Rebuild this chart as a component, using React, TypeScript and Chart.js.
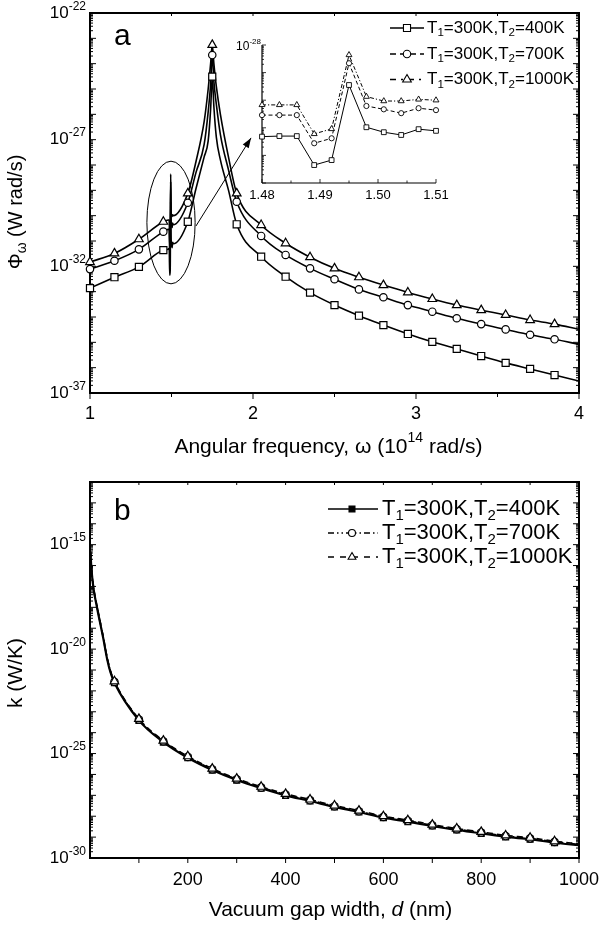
import React, { useEffect, useRef } from "react";
import { Chart, registerables } from "chart.js";

Chart.register(...registerables);

const W = 601;
const H = 926;
const FONT = '"Liberation Sans", Arial, Helvetica, sans-serif';

// ---------------- Panel a : spectral heat flux (log10 of Φω, W rad/s) ----------------
const omegaMarks = [1.0, 1.15, 1.3, 1.45, 1.6, 1.75, 1.9, 2.05, 2.2, 2.35, 2.5, 2.65, 2.8, 2.95, 3.1, 3.25, 3.4, 3.55, 3.7, 3.85];
const logPhi400Marks = [-32.86, -32.43, -32.02, -31.36, -30.24, -24.51, -30.34, -31.62, -32.41, -33.04, -33.53, -33.95, -34.32, -34.67, -34.98, -35.26, -35.54, -35.81, -36.05, -36.29];
const logPhi700Marks = [-32.11, -31.78, -31.33, -30.63, -29.49, -23.66, -29.45, -30.8, -31.55, -32.08, -32.51, -32.91, -33.22, -33.53, -33.79, -34.05, -34.28, -34.49, -34.7, -34.88];
const logPhi1000Marks = [-31.83, -31.49, -30.93, -30.24, -29.12, -23.26, -29.12, -30.37, -31.09, -31.64, -32.08, -32.43, -32.74, -33.03, -33.29, -33.53, -33.73, -33.92, -34.12, -34.28];

// curve points without markers (resonance shape, right end)
const omegaCurve = [1.65, 1.7, 1.725, 1.74, 1.76, 1.775, 1.8, 1.85, 4.0];
const logPhi400Curve = [-28.94, -27.69, -27.05, -25.8, -25.7, -26.9, -27.8, -29.0, -36.53];
const logPhi700Curve = [-28.3, -27.2, -25.9, -24.8, -24.7, -25.6, -26.8, -28.2, -35.08];
const logPhi1000Curve = [-27.87, -26.3, -25.0, -24.0, -24.0, -24.9, -26.0, -27.7, -34.49];

// fine structure near 1.49 (inset)
const omegaFine = [1.48, 1.483, 1.486, 1.489, 1.492, 1.495, 1.498, 1.501, 1.504, 1.507, 1.51];
const logPhi400Fine = [-31.32, -31.3, -31.3, -32.35, -32.17, -29.45, -30.98, -31.16, -31.26, -31.05, -31.11];
const logPhi700Fine = [-30.54, -30.54, -30.54, -31.56, -31.38, -28.66, -30.21, -30.33, -30.47, -30.29, -30.36];
const logPhi1000Fine = [-30.17, -30.17, -30.17, -31.22, -31.04, -28.36, -29.87, -30.03, -30.03, -29.97, -30.0];

const xTicksA = [1, 2, 3, 4];
const yLabelExpA = [-22, -27, -32, -37];
const xTicksInset = ["1.48", "1.49", "1.50", "1.51"];

// ---------------- Panel b : thermal conductance (log10 of k, W/K) ----------------
const gapMarks = [50, 100, 150, 200, 250, 300, 350, 400, 450, 500, 550, 600, 650, 700, 750, 800, 850, 900, 950];
const logK400Marks = [-21.61, -23.41, -24.45, -25.2, -25.79, -26.27, -26.66, -27.0, -27.27, -27.56, -27.8, -28.07, -28.26, -28.47, -28.66, -28.82, -28.99, -29.1, -29.27];
const logK700Marks = [-21.57, -23.37, -24.41, -25.16, -25.75, -26.23, -26.62, -26.96, -27.23, -27.52, -27.76, -28.03, -28.22, -28.43, -28.62, -28.78, -28.95, -29.06, -29.23];
const logK1000Marks = [-21.54, -23.34, -24.38, -25.13, -25.72, -26.2, -26.59, -26.93, -27.2, -27.49, -27.73, -28.0, -28.19, -28.4, -28.59, -28.75, -28.92, -29.03, -29.2];
const gapCurve = [1, 3, 7, 14, 20, 27, 35, 42, 1000];
const logK400Curve = [-15.37, -16.17, -17.07, -17.97, -18.67, -19.47, -20.47, -21.12, -29.39];
const logK700Curve = [-15.33, -16.13, -17.03, -17.93, -18.63, -19.43, -20.43, -21.08, -29.35];
const logK1000Curve = [-15.3, -16.1, -17.0, -17.9, -18.6, -19.4, -20.4, -21.05, -29.32];

const xTicksB = [200, 400, 600, 800, 1000];
const yLabelExpB = [-15, -20, -25, -30];

const legendLabels = [
  [{ t: "T" }, { t: "1", k: "sub" }, { t: "=300K,T" }, { t: "2", k: "sub" }, { t: "=400K" }],
  [{ t: "T" }, { t: "1", k: "sub" }, { t: "=300K,T" }, { t: "2", k: "sub" }, { t: "=700K" }],
  [{ t: "T" }, { t: "1", k: "sub" }, { t: "=300K,T" }, { t: "2", k: "sub" }, { t: "=1000K" }],
];

// ---------------- helpers ----------------
function pts(xs: number[], logs: number[]) {
  return xs.map((x, i) => ({ x, y: Math.pow(10, logs[i]) }));
}
function merged(...pairs: any[]) {
  const all = pairs.flatMap((p: any) => pts(p[0], p[1]));
  all.sort((a, b) => a.x - b.x);
  return all;
}
function font(size: number, italic = false) {
  return `${italic ? "italic " : ""}${size}px ${FONT}`;
}
function drawRuns(ctx: any, runs: any[], x: number, y: number, size: number, align: string, small?: number) {
  const sm = small || size * 0.65;
  ctx.textBaseline = "middle";
  ctx.textAlign = "left";
  const widths = runs.map((r) => {
    ctx.font = font(r.k ? sm : size, r.it);
    return ctx.measureText(r.t).width;
  });
  const total = widths.reduce((a, b) => a + b, 0);
  let cx = align === "left" ? x : align === "center" ? x - total / 2 : x - total;
  runs.forEach((r, i) => {
    ctx.font = font(r.k ? sm : size, r.it);
    const dy = r.k === "sub" ? size * 0.3 : r.k === "sup" ? -size * 0.4 : 0;
    ctx.fillText(r.t, cx, y + dy);
    cx += widths[i];
  });
  return total;
}
function seg(ctx: any, x1: number, y1: number, x2: number, y2: number) {
  ctx.beginPath();
  ctx.moveTo(x1, y1);
  ctx.lineTo(x2, y2);
  ctx.stroke();
}
function drawMarker(ctx: any, style: string, x: number, y: number, r: number, fill: string, lw: number) {
  ctx.save();
  ctx.setLineDash([]);
  ctx.beginPath();
  if (style === "rect") {
    const s = r * Math.SQRT1_2;
    ctx.rect(x - s, y - s, 2 * s, 2 * s);
  } else if (style === "circle") {
    ctx.arc(x, y, r, 0, Math.PI * 2);
  } else {
    ctx.moveTo(x, y - r);
    ctx.lineTo(x + r * 0.866, y + r * 0.5);
    ctx.lineTo(x - r * 0.866, y + r * 0.5);
    ctx.closePath();
  }
  ctx.fillStyle = fill;
  ctx.fill();
  ctx.lineWidth = lw;
  ctx.strokeStyle = "#000";
  ctx.stroke();
  ctx.restore();
}
function logTickValues(minExp: number, maxExp: number) {
  const out: any[] = [];
  for (let e = minExp; e < maxExp; e++) {
    for (let k = 1; k < 10; k++) out.push({ v: k * Math.pow(10, e), major: k === 1 });
  }
  out.push({ v: Math.pow(10, maxExp), major: true });
  return out;
}
function drawLegend(ctx: any, rows: any[], x0: number, x1: number, xm: number, xt: number, size: number) {
  rows.forEach((row, i) => {
    ctx.save();
    ctx.strokeStyle = "#000";
    ctx.lineWidth = row.lw;
    ctx.setLineDash(row.dash);
    seg(ctx, x0, row.y, x1, row.y);
    ctx.restore();
    drawMarker(ctx, row.style, xm, row.y, row.r, row.fill, 1.1);
    ctx.fillStyle = "#000";
    drawRuns(ctx, legendLabels[i], xt, row.y, size, "left", size * 0.68);
  });
}

// ---------------- panel a plugin ----------------
const panelAPlugin = {
  id: "panelA",
  beforeDatasetsDraw(chart: any) {
    const { ctx, chartArea: ca, scales } = chart;
    const xs = scales.x;
    const ys = scales.y;
    ctx.save();
    ctx.strokeStyle = "#000";
    ctx.fillStyle = "#000";
    ctx.lineWidth = 1;
    logTickValues(-37, -22).forEach((t: any) => {
      const y = ys.getPixelForValue(t.v);
      const len = t.major ? 6 : 3;
      seg(ctx, ca.left, y, ca.left + len, y);
      seg(ctx, ca.right, y, ca.right - len, y);
    });
    for (let v = 1; v <= 4.0001; v += 0.5) {
      const x = xs.getPixelForValue(v);
      const major = Math.abs(v - Math.round(v)) < 1e-6;
      seg(ctx, x, ca.bottom, x, ca.bottom + (major ? 6 : 4));
      seg(ctx, x, ca.top, x, ca.top + 3);
    }
    ctx.lineWidth = 2;
    ctx.strokeRect(ca.left, ca.top, ca.right - ca.left, ca.bottom - ca.top);
    // tick labels
    yLabelExpA.forEach((e) => {
      const y = ys.getPixelForValue(Math.pow(10, e));
      drawRuns(ctx, [{ t: "10" }, { t: String(e), k: "sup" }], 86, y, 17, "right", 12);
    });
    ctx.textAlign = "center";
    ctx.textBaseline = "middle";
    ctx.font = font(18);
    xTicksA.forEach((v) => ctx.fillText(String(v), xs.getPixelForValue(v), ca.bottom + 21));
    // axis titles
    drawRuns(
      ctx,
      [{ t: "Angular frequency, \u03c9 (10" }, { t: "14", k: "sup" }, { t: " rad/s)" }],
      (ca.left + ca.right) / 2 - 6,
      ca.bottom + 54,
      21,
      "center",
      14
    );
    ctx.save();
    ctx.translate(16, 212);
    ctx.rotate(-Math.PI / 2);
    drawRuns(ctx, [{ t: "\u03a6" }, { t: "\u03c9", k: "sub" }, { t: " (W rad/s)" }], 0, 0, 20, "center", 14);
    ctx.restore();
    ctx.font = font(30);
    ctx.textAlign = "left";
    ctx.textBaseline = "alphabetic";
    ctx.fillText("a", 114, 45);
    ctx.restore();
  },
  afterDatasetsDraw(chart: any) {
    const { ctx, scales } = chart;
    const xs = scales.x;
    const ys = scales.y;
    ctx.save();
    ctx.strokeStyle = "#000";
    ctx.fillStyle = "#000";
    ctx.lineWidth = 1;
    // ellipse around the fine structure
    const cx = xs.getPixelForValue(1.497);
    const cy = ys.getPixelForValue(Math.pow(10, -30.27));
    const rx = cx - xs.getPixelForValue(1.349);
    const ry = cy - ys.getPixelForValue(Math.pow(10, -27.85));
    ctx.beginPath();
    ctx.ellipse(cx, cy, rx, ry, 0, 0, Math.PI * 2);
    ctx.stroke();
    // arrow to the inset
    const ax = xs.getPixelForValue(1.65);
    const ay = ys.getPixelForValue(Math.pow(10, -30.41));
    const bx = xs.getPixelForValue(1.988);
    const by = ys.getPixelForValue(Math.pow(10, -26.93));
    seg(ctx, ax, ay, bx, by);
    const ang = Math.atan2(by - ay, bx - ax);
    ctx.beginPath();
    ctx.moveTo(bx, by);
    ctx.lineTo(bx - 10 * Math.cos(ang) + 3.5 * Math.sin(ang), by - 10 * Math.sin(ang) - 3.5 * Math.cos(ang));
    ctx.lineTo(bx - 10 * Math.cos(ang) - 3.5 * Math.sin(ang), by - 10 * Math.sin(ang) + 3.5 * Math.cos(ang));
    ctx.closePath();
    ctx.fill();
    drawLegend(
      ctx,
      [
        { y: 28, style: "rect", r: 5, fill: "#fff", dash: [], lw: 1.3 },
        { y: 54, style: "circle", r: 3.7, fill: "#fff", dash: [6, 4], lw: 1.3 },
        { y: 79.5, style: "triangle", r: 5, fill: "#fff", dash: [6, 5, 2, 5], lw: 1.3 },
      ],
      390,
      424,
      407,
      427,
      17
    );
    ctx.restore();
  },
};

// ---------------- inset plugin ----------------
const insetPlugin = {
  id: "inset",
  beforeDatasetsDraw(chart: any) {
    const { ctx, chartArea: ca, scales } = chart;
    const xs = scales.x;
    const ys = scales.y;
    ctx.save();
    ctx.strokeStyle = "#000";
    ctx.fillStyle = "#000";
    ctx.lineWidth = 0.8;
    logTickValues(-33, -28).forEach((t: any) => {
      const y = ys.getPixelForValue(t.v);
      seg(ctx, ca.left, y, ca.left + (t.major ? 4 : 2), y);
    });
    for (let i = 0; i <= 6; i++) {
      const v = 1.48 + i * 0.005;
      const x = xs.getPixelForValue(v);
      seg(ctx, x, ca.bottom, x, ca.bottom - (i % 2 === 0 ? 4 : 2.5));
    }
    ctx.lineWidth = 1.2;
    seg(ctx, ca.left, ca.top, ca.left, ca.bottom);
    seg(ctx, ca.left, ca.bottom, ca.right, ca.bottom);
    drawRuns(ctx, [{ t: "10" }, { t: "-28", k: "sup" }], ca.left - 1, ca.top + 2, 12, "right", 8);
    ctx.font = font(13);
    ctx.textAlign = "center";
    ctx.textBaseline = "middle";
    xTicksInset.forEach((s) => ctx.fillText(s, xs.getPixelForValue(parseFloat(s)), ca.bottom + 12));
    ctx.restore();
  },
};

// ---------------- panel b plugin ----------------
const panelBPlugin = {
  id: "panelB",
  beforeDatasetsDraw(chart: any) {
    const { ctx, chartArea: ca, scales } = chart;
    const xs = scales.x;
    const ys = scales.y;
    ctx.save();
    ctx.strokeStyle = "#000";
    ctx.fillStyle = "#000";
    ctx.lineWidth = 1;
    logTickValues(-30, -12).forEach((t: any) => {
      const y = ys.getPixelForValue(t.v);
      const len = t.major ? 6 : 3;
      seg(ctx, ca.left, y, ca.left + len, y);
      seg(ctx, ca.right, y, ca.right - len, y);
    });
    for (let v = 100; v <= 1000; v += 100) {
      const x = xs.getPixelForValue(v);
      seg(ctx, x, ca.bottom, x, ca.bottom + 5);
      seg(ctx, x, ca.top, x, ca.top + 3);
    }
    ctx.lineWidth = 2;
    ctx.strokeRect(ca.left, ca.top, ca.right - ca.left, ca.bottom - ca.top);
    yLabelExpB.forEach((e) => {
      const y = ys.getPixelForValue(Math.pow(10, e));
      drawRuns(ctx, [{ t: "10" }, { t: String(e), k: "sup" }], 86, y, 17, "right", 12);
    });
    ctx.textAlign = "center";
    ctx.textBaseline = "middle";
    ctx.font = font(18);
    xTicksB.forEach((v) => ctx.fillText(String(v), xs.getPixelForValue(v), ca.bottom + 22));
    drawRuns(
      ctx,
      [{ t: "Vacuum gap width, " }, { t: "d", it: true }, { t: " (nm)" }],
      (ca.left + ca.right) / 2 - 4,
      ca.bottom + 52,
      21,
      "center"
    );
    ctx.save();
    ctx.translate(16, 673);
    ctx.rotate(-Math.PI / 2);
    drawRuns(ctx, [{ t: "k (W/K)" }], 0, 0, 21, "center");
    ctx.restore();
    ctx.font = font(30);
    ctx.textAlign = "left";
    ctx.textBaseline = "alphabetic";
    ctx.fillText("b", 114, 520);
    ctx.restore();
  },
  afterDatasetsDraw(chart: any) {
    const { ctx } = chart;
    ctx.save();
    drawLegend(
      ctx,
      [
        { y: 509, style: "rect", r: 4.2, fill: "#000", dash: [], lw: 1.5 },
        { y: 533, style: "circle", r: 3.5, fill: "#fff", dash: [6, 3, 1.5, 3, 1.5, 3], lw: 1.3 },
        { y: 557, style: "triangle", r: 4.5, fill: "#fff", dash: [6, 6], lw: 1.3 },
      ],
      328,
      378,
      352,
      382,
      22
    );
    ctx.restore();
  },
};

// ---------------- dataset builders ----------------
function lineDs(data: any[], width: number, dash: number[], order: number, mono = true) {
  return {
    data,
    borderColor: "#000",
    borderWidth: width,
    borderDash: dash,
    pointRadius: 0,
    fill: false,
    cubicInterpolationMode: mono ? "monotone" : "default",
    tension: 0,
    order,
  };
}
function markDs(data: any[], style: string, r: number, fill: string, order: number, lw = 1.2) {
  return {
    data,
    showLine: false,
    pointStyle: style,
    pointRadius: r,
    pointBackgroundColor: fill,
    pointBorderColor: "#000",
    pointBorderWidth: lw,
    order,
    clip: false,
  };
}
function baseOptions(pad: any, x: any, y: any) {
  return {
    responsive: false,
    animation: false,
    events: [],
    layout: { padding: pad },
    plugins: { legend: { display: false }, tooltip: { enabled: false } },
    scales: {
      x: { type: "linear", display: false, ...x },
      y: { type: "logarithmic", display: false, ...y },
    },
  };
}

function configA(): any {
  return {
    type: "line",
    data: {
      datasets: [
        markDs(pts(omegaMarks, logPhi1000Marks), "triangle", 5, "#fff", 0),
        markDs(pts(omegaMarks, logPhi700Marks), "circle", 3.7, "#fff", 1),
        markDs(pts(omegaMarks, logPhi400Marks), "rect", 5, "#fff", 2),
        lineDs(merged([omegaMarks, logPhi1000Marks], [omegaCurve, logPhi1000Curve], [omegaFine, logPhi1000Fine]), 1.6, [], 3),
        lineDs(merged([omegaMarks, logPhi700Marks], [omegaCurve, logPhi700Curve], [omegaFine, logPhi700Fine]), 1.6, [], 4),
        lineDs(merged([omegaMarks, logPhi400Marks], [omegaCurve, logPhi400Curve], [omegaFine, logPhi400Fine]), 1.6, [], 5),
      ],
    },
    options: baseOptions({ left: 90, top: 13, right: 22, bottom: 533 }, { min: 1, max: 4 }, { min: 1e-37, max: 1e-22 }),
    plugins: [panelAPlugin],
  };
}

function configInset(): any {
  return {
    type: "line",
    data: {
      datasets: [
        markDs(pts(omegaFine, logPhi1000Fine), "triangle", 3.4, "#fff", 0, 0.9),
        markDs(pts(omegaFine, logPhi700Fine), "circle", 2.6, "#fff", 1, 0.9),
        markDs(pts(omegaFine, logPhi400Fine), "rect", 3.4, "#fff", 2, 0.9),
        { ...lineDs(pts(omegaFine, logPhi1000Fine), 1, [4, 2, 1.2, 2], 3, false), clip: false },
        { ...lineDs(pts(omegaFine, logPhi700Fine), 1, [4, 2.5], 4, false), clip: false },
        { ...lineDs(pts(omegaFine, logPhi400Fine), 1, [], 5, false), clip: false },
      ],
    },
    options: baseOptions({ left: 262, top: 45, right: 165, bottom: 743 }, { min: 1.48, max: 1.51 }, { min: 1e-33, max: 1e-28 }),
    plugins: [insetPlugin],
  };
}

function configB(): any {
  return {
    type: "line",
    data: {
      datasets: [
        markDs(pts(gapMarks, logK1000Marks), "triangle", 5, "#fff", 0),
        markDs(pts(gapMarks, logK700Marks), "circle", 3.7, "#fff", 1),
        markDs(pts(gapMarks, logK400Marks), "rect", 4.2, "#000", 2),
        lineDs(merged([gapMarks, logK1000Marks], [gapCurve, logK1000Curve]), 1.6, [6, 4], 3),
        lineDs(merged([gapMarks, logK700Marks], [gapCurve, logK700Curve]), 1.6, [6, 3, 1.5, 3], 4),
        lineDs(merged([gapMarks, logK400Marks], [gapCurve, logK400Curve]), 2.2, [], 5),
      ],
    },
    options: baseOptions({ left: 90, top: 482, right: 22, bottom: 68 }, { min: 0, max: 1000 }, { min: 1e-30, max: 1e-12 }),
    plugins: [panelBPlugin],
  };
}

export default function App() {
  const refA = useRef<HTMLCanvasElement>(null);
  const refB = useRef<HTMLCanvasElement>(null);
  const refI = useRef<HTMLCanvasElement>(null);
  useEffect(() => {
    const a = new Chart(refA.current as any, configA());
    const b = new Chart(refB.current as any, configB());
    const i = new Chart(refI.current as any, configInset());
    return () => {
      a.destroy();
      b.destroy();
      i.destroy();
    };
  }, []);
  const cs: any = { position: "absolute", left: 0, top: 0 };
  return (
    <div style={{ position: "absolute", left: 0, top: 0, width: W, height: H, background: "#fff" }}>
      <canvas ref={refA} width={W} height={H} style={cs} />
      <canvas ref={refB} width={W} height={H} style={cs} />
      <canvas ref={refI} width={W} height={H} style={cs} />
    </div>
  );
}
